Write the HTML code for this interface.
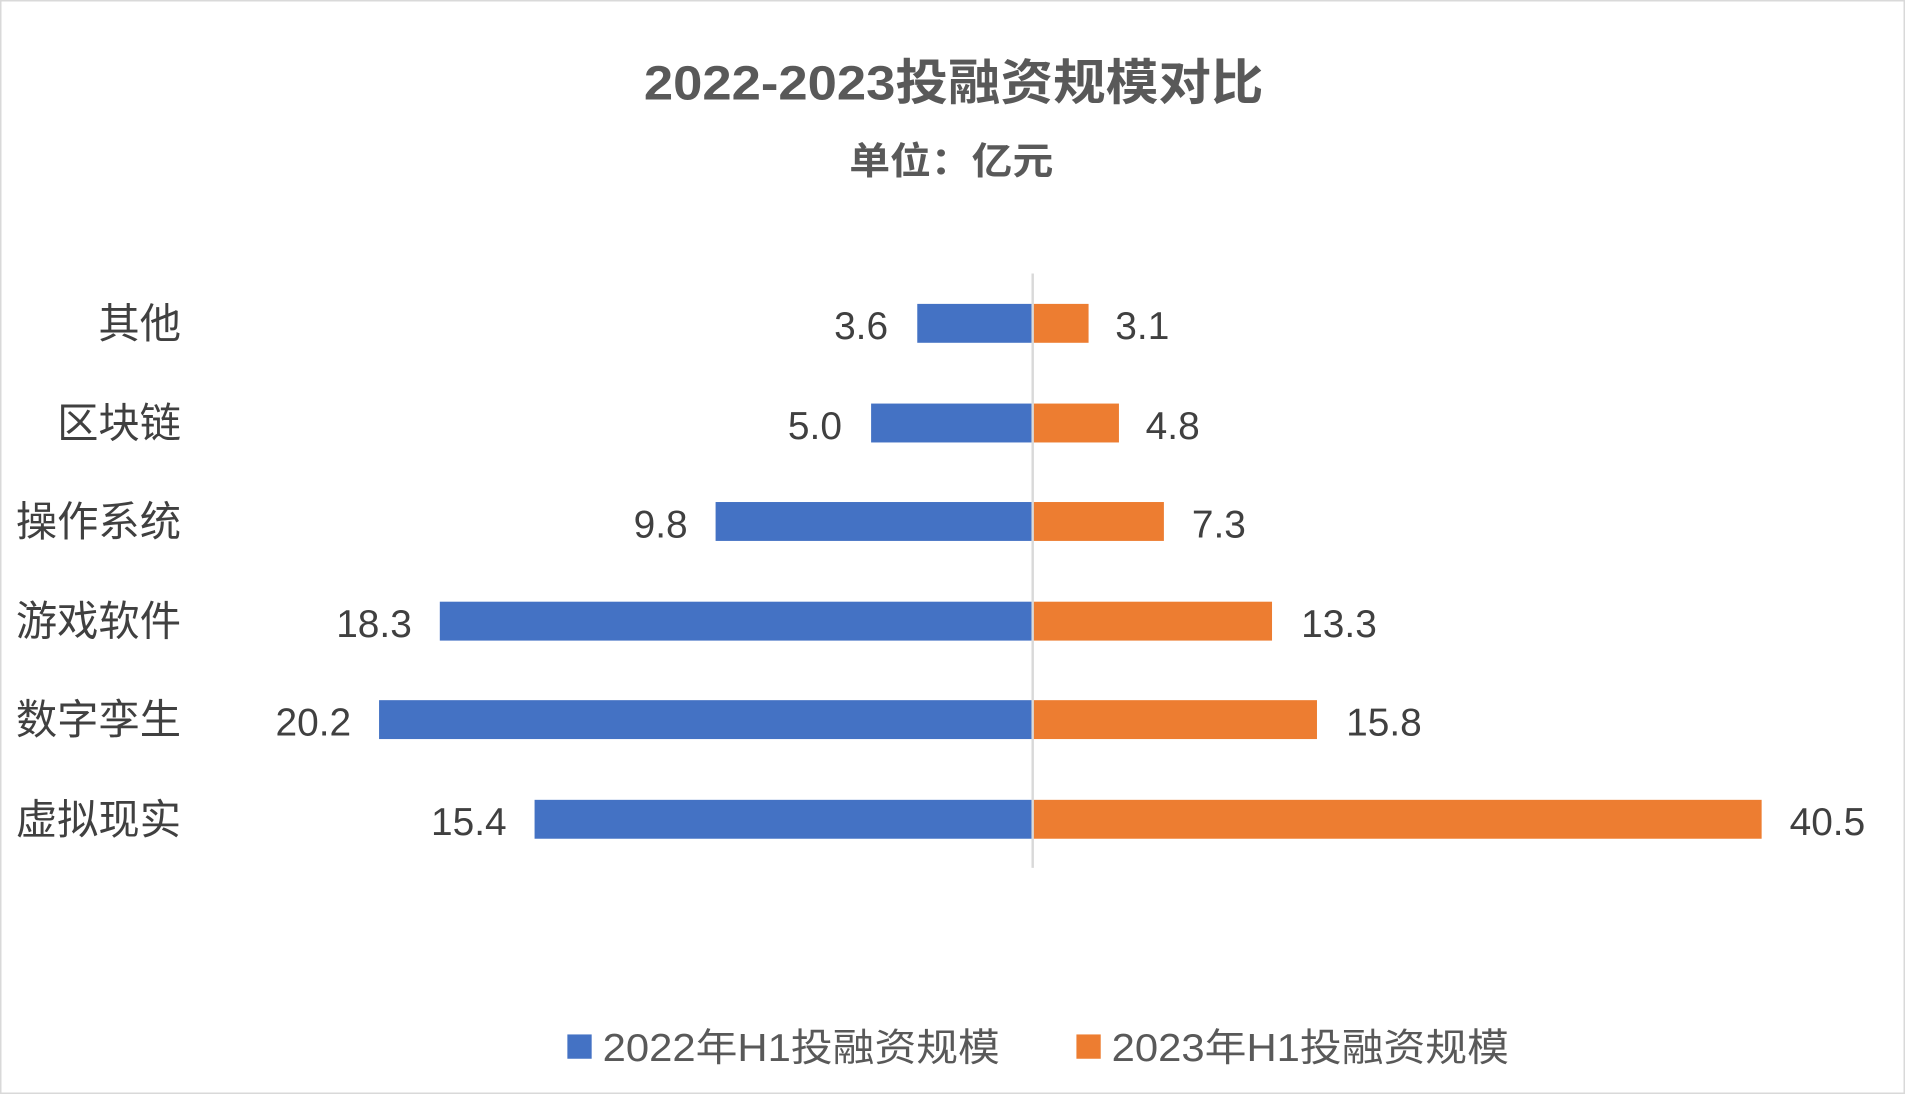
<!DOCTYPE html>
<html><head><meta charset="utf-8"><style>
html,body{margin:0;padding:0;background:#fff;}
svg{display:block;}
text{font-family:"Liberation Sans","Noto Sans CJK SC",sans-serif;}
</style></head><body>
<svg width="1905" height="1094" viewBox="0 0 1568 900" preserveAspectRatio="none" xmlns="http://www.w3.org/2000/svg">
<rect x="0.5" y="0.5" width="1567" height="899" fill="#fff" stroke="#d9d9d9" stroke-width="1.5"/>
<text x="530" y="82" font-size="40" font-weight="bold" fill="#595959" textLength="510" lengthAdjust="spacingAndGlyphs">2022-2023投融资规模对比</text>
<text x="699" y="143" font-size="31" font-weight="bold" fill="#595959" textLength="168" lengthAdjust="spacingAndGlyphs">单位：亿元</text>
<g fill="#4472c4">
<rect x="755" y="250" width="95" height="32"/>
<rect x="717" y="332" width="133" height="32"/>
<rect x="589" y="413" width="261" height="32"/>
<rect x="362" y="495" width="488" height="32"/>
<rect x="312" y="576" width="538" height="32"/>
<rect x="440" y="658" width="410" height="32"/>
</g>
<g fill="#ed7d31">
<rect x="850" y="250" width="46" height="32"/>
<rect x="850" y="332" width="71" height="32"/>
<rect x="850" y="413" width="108" height="32"/>
<rect x="850" y="495" width="197" height="32"/>
<rect x="850" y="576" width="234" height="32"/>
<rect x="850" y="658" width="600" height="32"/>
</g>
<line x1="850" y1="225" x2="850" y2="714" stroke="#d9d9d9" stroke-width="2"/>
<g font-size="34" fill="#404040" text-anchor="end">
<text x="149" y="278">其他</text>
<text x="149" y="360">区块链</text>
<text x="149" y="441">操作系统</text>
<text x="149" y="523">游戏软件</text>
<text x="149" y="604">数字孪生</text>
<text x="149" y="686">虚拟现实</text>
</g>
<g font-size="32" fill="#404040" text-anchor="end">
<text x="731" y="279">3.6</text>
<text x="693" y="361">5.0</text>
<text x="566" y="442">9.8</text>
<text x="339" y="524">18.3</text>
<text x="289" y="605">20.2</text>
<text x="417" y="687">15.4</text>
</g>
<g font-size="32" fill="#404040">
<text x="918" y="279">3.1</text>
<text x="943" y="361">4.8</text>
<text x="981" y="442">7.3</text>
<text x="1071" y="524">13.3</text>
<text x="1108" y="605">15.8</text>
<text x="1473" y="687">40.5</text>
</g>
<rect x="467" y="851" width="20" height="20" fill="#4472c4"/>
<text x="496" y="873" font-size="32" fill="#595959" textLength="327" lengthAdjust="spacingAndGlyphs">2022年H1投融资规模</text>
<rect x="886" y="851" width="20" height="20" fill="#ed7d31"/>
<text x="915" y="873" font-size="32" fill="#595959" textLength="327" lengthAdjust="spacingAndGlyphs">2023年H1投融资规模</text>
</svg>
</body></html>
